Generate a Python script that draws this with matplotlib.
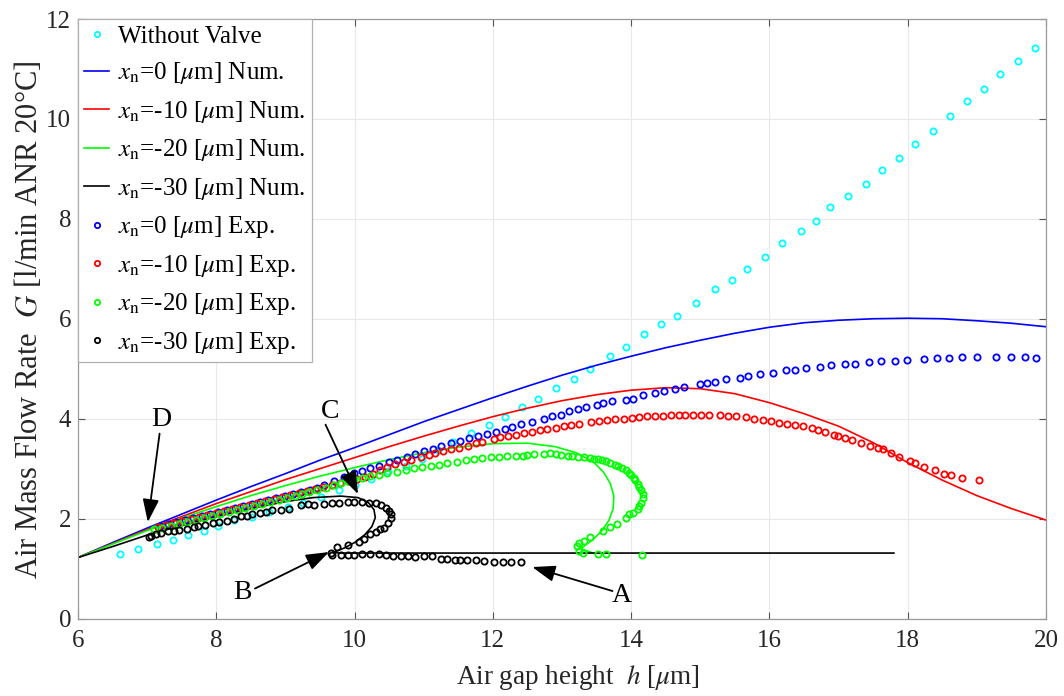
import matplotlib
matplotlib.use('Agg')
import matplotlib.pyplot as plt

plt.rcParams['font.family'] = ['Liberation Serif', 'DejaVu Serif']
plt.rcParams['mathtext.fontset'] = 'stix'

# ---------------- data ----------------
wv_h = [6.61, 6.87, 7.14, 7.37, 7.59, 7.82, 8.02, 8.25, 8.51, 8.76, 9.03, 9.25, 9.51, 9.77, 10.01,
        10.24, 10.48, 10.74, 10.98, 11.2, 11.43, 11.69, 11.94, 12.17, 12.42, 12.66, 12.91, 13.17,
        13.41, 13.69, 13.92, 14.19, 14.43, 14.66, 14.94, 15.21, 15.46, 15.68, 15.94, 16.18, 16.45,
        16.67, 16.87, 17.13, 17.40, 17.63, 17.87, 18.11, 18.36, 18.61, 18.86, 19.10, 19.34, 19.59, 19.84]
wv_G = [1.30, 1.40, 1.49, 1.57, 1.67, 1.75, 1.85, 1.97, 2.03, 2.13, 2.23, 2.31, 2.43, 2.57, 2.68,
        2.80, 2.95, 3.06, 3.20, 3.37, 3.54, 3.72, 3.87, 4.04, 4.24, 4.40, 4.61, 4.79,
        5.00, 5.25, 5.43, 5.69, 5.90, 6.06, 6.31, 6.59, 6.78, 7.00, 7.24, 7.51, 7.75,
        7.96, 8.24, 8.46, 8.70, 8.98, 9.22, 9.50, 9.75, 10.06, 10.35, 10.59, 10.89, 11.16, 11.41]

num0_h = [6, 6.5, 7, 7.5, 8, 8.5, 9, 9.5, 10, 10.5, 11, 11.5, 12, 12.5, 13, 13.5, 14, 14.5, 15,
          15.5, 16, 16.5, 17, 17.5, 18, 18.5, 19, 19.5, 20]
num0_G = [1.22, 1.52, 1.81, 2.09, 2.37, 2.64, 2.90, 3.17, 3.42, 3.68, 3.94, 4.18, 4.42, 4.65, 4.87,
          5.07, 5.25, 5.42, 5.57, 5.71, 5.83, 5.92, 5.97, 6.00, 6.01, 6.00, 5.96, 5.91, 5.84]

num10_h = [6, 6.5, 7, 7.5, 8, 8.5, 9, 9.5, 10, 10.5, 11, 11.5, 12, 12.5, 13, 13.5, 14, 14.5, 15,
           15.5, 16, 16.5, 17, 17.5, 18, 18.5, 19, 19.5, 20]
num10_G = [1.22, 1.50, 1.78, 2.04, 2.30, 2.54, 2.78, 3.00, 3.22, 3.44, 3.65, 3.85, 4.04, 4.21, 4.36,
           4.48, 4.57, 4.62, 4.60, 4.50, 4.32, 4.10, 3.85, 3.52, 3.12, 2.77, 2.46, 2.20, 1.97]

num20_h = [6, 6.5, 7, 7.5, 8, 8.5, 9, 9.5, 10, 10.5, 11, 11.5, 12, 12.5, 12.9, 13.2, 13.45, 13.6,
           13.7, 13.75, 13.74, 13.68, 13.58, 13.45, 13.32, 13.27, 13.45]
num20_G = [1.22, 1.49, 1.76, 2.01, 2.24, 2.46, 2.66, 2.85, 3.02, 3.18, 3.32, 3.43, 3.50, 3.51, 3.44,
           3.32, 3.14, 2.93, 2.70, 2.45, 2.20, 1.97, 1.76, 1.58, 1.45, 1.40, 1.31]

num30_h = [6, 6.5, 7, 7.5, 8, 8.5, 9, 9.4, 9.8, 10.05, 10.2, 10.28, 10.3, 10.25, 10.15, 10.0, 9.85,
           9.72, 9.68, 9.8, 17.8]
num30_G = [1.22, 1.44, 1.67, 1.86, 2.04, 2.20, 2.34, 2.42, 2.45, 2.42, 2.32, 2.18, 2.02, 1.84, 1.68,
           1.52, 1.41, 1.34, 1.32, 1.31, 1.31]

exp0_h = [7.18, 7.30, 7.42, 7.55, 7.67, 7.79, 7.91, 8.03, 8.15, 8.27, 8.39, 8.51, 8.63, 8.75, 8.87,
          8.99, 9.11, 9.23, 9.35, 9.45, 9.56, 9.70, 9.85, 9.99, 10.11, 10.23, 10.35, 10.50, 10.62,
          10.76, 10.88, 11.00, 11.13, 11.25, 11.39, 11.52, 11.65, 11.78, 11.92, 12.05, 12.17, 12.28,
          12.40, 12.56, 12.74, 12.86, 12.98, 13.10, 13.23, 13.35, 13.50, 13.60, 13.73, 13.92, 14.03,
          14.17, 14.34, 14.48, 14.63, 14.76, 14.99, 15.10, 15.22, 15.37, 15.57, 15.69, 15.87, 16.05,
          16.24, 16.37, 16.53, 16.73, 16.89, 17.09, 17.24, 17.44, 17.61, 17.82, 17.99, 18.24, 18.42,
          18.60, 18.79, 19.00, 19.28, 19.50, 19.70, 19.86]
exp0_G = [1.86, 1.89, 1.93, 1.97, 2.01, 2.05, 2.09, 2.13, 2.17, 2.21, 2.25, 2.29, 2.33, 2.37, 2.41,
          2.45, 2.49, 2.53, 2.57, 2.62, 2.67, 2.76, 2.84, 2.91, 2.96, 3.01, 3.06, 3.13, 3.18,
          3.24, 3.30, 3.35, 3.40, 3.45, 3.51, 3.56, 3.61, 3.65, 3.70, 3.73, 3.79, 3.84,
          3.89, 3.93, 4.00, 4.05, 4.08, 4.15, 4.19, 4.23, 4.28, 4.31, 4.35, 4.38, 4.40,
          4.47, 4.51, 4.55, 4.59, 4.64, 4.69, 4.71, 4.74, 4.79, 4.82, 4.85, 4.89, 4.92,
          4.97, 4.98, 5.01, 5.04, 5.07, 5.09, 5.10, 5.13, 5.16, 5.16, 5.17, 5.19, 5.21,
          5.21, 5.23, 5.24, 5.24, 5.23, 5.23, 5.22]

exp10_h = [7.15, 7.27, 7.39, 7.51, 7.63, 7.75, 7.87, 7.99, 8.11, 8.23, 8.35, 8.47, 8.59, 8.71, 8.83,
           8.95, 9.07, 9.19, 9.31, 9.43, 9.55, 9.67, 9.79, 9.91, 10.03, 10.15, 10.27, 10.37, 10.47,
           10.59, 10.71, 10.81, 10.96, 11.07, 11.17, 11.28, 11.39, 11.51, 11.64, 11.75, 11.85, 12.02,
           12.11, 12.22, 12.34, 12.45, 12.57, 12.68, 12.79, 12.91, 13.03, 13.13, 13.24, 13.42, 13.53,
           13.65, 13.77, 13.89, 14.01, 14.12, 14.23, 14.35, 14.46, 14.58, 14.69, 14.78, 14.90, 15.01,
           15.13, 15.28, 15.40, 15.52, 15.66, 15.78, 15.90, 16.02, 16.14, 16.26, 16.37, 16.49, 16.61,
           16.70, 16.81, 16.93, 16.99, 17.10, 17.20, 17.33, 17.45, 17.57, 17.64, 17.76, 17.88, 18.04,
           18.11, 18.24, 18.39, 18.53, 18.62, 18.78, 19.03]
exp10_G = [1.84, 1.88, 1.92, 1.96, 2.00, 2.04, 2.08, 2.12, 2.16, 2.19, 2.23, 2.27, 2.31, 2.35, 2.39,
           2.43, 2.47, 2.51, 2.55, 2.59, 2.63, 2.67, 2.71, 2.75, 2.79, 2.84, 2.90, 2.97, 3.03,
           3.10, 3.14, 3.17, 3.23, 3.28, 3.32, 3.36, 3.40, 3.42, 3.46, 3.51, 3.54, 3.60,
           3.64, 3.65, 3.68, 3.71, 3.73, 3.77, 3.79, 3.81, 3.85, 3.88, 3.90, 3.93, 3.95,
           3.97, 3.99, 3.99, 4.01, 4.03, 4.05, 4.05, 4.06, 4.07, 4.07, 4.07, 4.07, 4.07,
           4.07, 4.07, 4.05, 4.05, 4.03, 4.00, 3.98, 3.95, 3.92, 3.89, 3.87, 3.85, 3.81,
           3.77, 3.73, 3.68, 3.66, 3.61, 3.57, 3.52, 3.46, 3.42, 3.40, 3.32, 3.24, 3.15,
           3.12, 3.04, 2.97, 2.89, 2.87, 2.81, 2.77]

exp20_h = [7.10, 7.22, 7.34, 7.46, 7.58, 7.70, 7.82, 7.94, 8.06, 8.18, 8.30, 8.42, 8.54, 8.66, 8.78,
           8.90, 9.02, 9.14, 9.24, 9.34, 9.46, 9.58, 9.70, 9.80, 9.90, 9.99, 10.11, 10.23, 10.35,
           10.47, 10.62, 10.74, 10.86, 10.98, 11.10, 11.22, 11.34, 11.48, 11.61, 11.73, 11.85, 11.97,
           12.09, 12.21, 12.33, 12.43, 12.50, 12.59, 12.74, 12.83, 12.91, 12.99, 13.08, 13.15, 13.23,
           13.32, 13.41, 13.47, 13.52, 13.58, 13.64, 13.70, 13.76, 13.81, 13.87, 13.92, 13.97, 14.00,
           14.04, 14.06, 14.10, 14.12, 14.14, 14.17, 14.17, 14.14, 14.12, 14.10, 14.02, 13.97, 13.92,
           13.80, 13.70, 13.60, 13.41, 13.32, 13.24, 13.22, 13.24, 13.30, 13.52, 13.64, 14.16]
exp20_G = [1.79, 1.82, 1.86, 1.90, 1.94, 1.98, 2.02, 2.06, 2.10, 2.14, 2.18, 2.21, 2.25, 2.29, 2.33,
           2.37, 2.41, 2.45, 2.49, 2.53, 2.58, 2.62, 2.67, 2.72, 2.76, 2.79, 2.82, 2.85, 2.88,
           2.91, 2.94, 2.98, 3.01, 3.03, 3.05, 3.08, 3.11, 3.14, 3.17, 3.19, 3.21, 3.23,
           3.24, 3.25, 3.25, 3.26, 3.27, 3.30, 3.30, 3.32, 3.30, 3.28, 3.25, 3.25, 3.24,
           3.24, 3.22, 3.20, 3.20, 3.17, 3.15, 3.12, 3.07, 3.05, 3.02, 2.97, 2.91, 2.87,
           2.82, 2.77, 2.69, 2.63, 2.57, 2.49, 2.42, 2.32, 2.26, 2.19, 2.12, 2.09, 2.02,
           1.89, 1.84, 1.76, 1.63, 1.56, 1.51, 1.46, 1.36, 1.31, 1.29, 1.29, 1.28]

exp30_h = [7.02, 7.05, 7.13, 7.20, 7.30, 7.39, 7.46, 7.57, 7.68, 7.73, 7.83, 7.95, 8.04, 8.16, 8.26,
           8.36, 8.45, 8.52, 8.63, 8.72, 8.81, 8.93, 9.05, 9.22, 9.32, 9.41, 9.56, 9.68, 9.78,
           9.90, 9.99, 10.11, 10.21, 10.31, 10.38, 10.45, 10.50, 10.53, 10.52, 10.48, 10.43, 10.37,
           10.31, 10.23, 10.14, 10.06, 9.90, 9.75, 9.66, 9.68, 9.80, 9.90, 9.99, 10.11, 10.23,
           10.35, 10.45, 10.55, 10.67, 10.77, 10.88, 11.00, 11.12, 11.25, 11.34, 11.45, 11.53, 11.63,
           11.75, 11.87, 12.01, 12.14, 12.26, 12.40]
exp30_G = [1.63, 1.66, 1.70, 1.72, 1.76, 1.76, 1.78, 1.80, 1.84, 1.86, 1.88, 1.92, 1.94, 1.96, 1.99,
           2.06, 2.06, 2.09, 2.11, 2.14, 2.17, 2.18, 2.19, 2.27, 2.29, 2.27, 2.29, 2.31, 2.32,
           2.33, 2.33, 2.33, 2.32, 2.31, 2.27, 2.22, 2.16, 2.09, 2.02, 1.92, 1.82, 1.79,
           1.73, 1.69, 1.59, 1.54, 1.47, 1.43, 1.31, 1.28, 1.27, 1.27, 1.28, 1.29, 1.29,
           1.29, 1.28, 1.25, 1.25, 1.26, 1.24, 1.25, 1.25, 1.19, 1.19, 1.18, 1.17, 1.18,
           1.17, 1.15, 1.13, 1.13, 1.13, 1.13]

x_ticks = [6, 8, 10, 12, 14, 16, 18, 20]
y_ticks = [0, 2, 4, 6, 8, 10, 12]

labels = ['Without Valve',
          r'$x_{\rm n}$=0 [$\mu$m] Num.', r'$x_{\rm n}$=-10 [$\mu$m] Num.',
          r'$x_{\rm n}$=-20 [$\mu$m] Num.', r'$x_{\rm n}$=-30 [$\mu$m] Num.',
          r'$x_{\rm n}$=0 [$\mu$m] Exp.', r'$x_{\rm n}$=-10 [$\mu$m] Exp.',
          r'$x_{\rm n}$=-20 [$\mu$m] Exp.', r'$x_{\rm n}$=-30 [$\mu$m] Exp.']

# annotations: (label, text xy, arrow tail, arrow head)
annots = [('A', (13.87, 0.46), (13.73, 0.55), (12.57, 1.03)),
          ('B', (8.38, 0.53), (8.56, 0.60), (9.63, 1.33)),
          ('C', (9.64, 4.14), (9.58, 3.88), (10.05, 2.49)),
          ('D', (7.20, 3.98), (7.18, 3.70), (7.01, 1.93))]

# ---------------- plot ----------------
fig = plt.figure(figsize=(10.64, 6.96), dpi=100)
ax = fig.add_axes([78 / 1064, 1 - 618.5 / 696, (1046 - 78) / 1064, (618.5 - 19) / 696])

mk = dict(ls='none', marker='o', mfc='none', ms=4.5, mew=1.3)
lw = 1.2
ax.plot(wv_h, wv_G, color='#00ffff', label=labels[0], **mk)
ax.plot(num0_h, num0_G, color='#0000ff', lw=lw, label=labels[1])
ax.plot(num10_h, num10_G, color='#ff0000', lw=lw, label=labels[2])
ax.plot(num20_h, num20_G, color='#00ff00', lw=lw, label=labels[3])
ax.plot(num30_h, num30_G, color='#000000', lw=lw, label=labels[4])
ax.plot(exp0_h, exp0_G, color='#0000ff', label=labels[5], **mk)
ax.plot(exp10_h, exp10_G, color='#ff0000', label=labels[6], **mk)
ax.plot(exp20_h, exp20_G, color='#00ff00', label=labels[7], **mk)
ax.plot(exp30_h, exp30_G, color='#000000', label=labels[8], **mk)

for lab, txy, tail, head in annots:
    ax.text(txy[0], txy[1], lab, fontsize=20, ha='center', va='center')
    ax.annotate('', xy=head, xytext=tail,
                arrowprops=dict(arrowstyle='-|>,head_length=0.7,head_width=0.25',
                                color='black', lw=1.3, shrinkA=0, shrinkB=0,
                                mutation_scale=20))

ax.set_xlim(6, 20)
ax.set_ylim(0, 12)
ax.set_xticks(x_ticks)
ax.set_yticks(y_ticks)
ax.grid(True, color='#e8e8e8', lw=0.8)
ax.set_axisbelow(True)
ax.tick_params(direction='in', length=5, width=0.8, top=True, right=True,
               color='#555555', labelsize=18, labelcolor='#262626')
ax.tick_params(axis='x', pad=8)
ax.tick_params(axis='y', pad=5)
for s in ax.spines.values():
    s.set_color('#9a9a9a')
    s.set_linewidth(0.9)

ax.set_xlabel(r'Air gap height  $h$ [$\mu$m]', fontsize=19.5, color='#262626')
ax.xaxis.set_label_coords((578 - 78) / 968, -(677 - 618.5) / 599.5, transform=ax.transAxes)
ax.xaxis.label.set_va('center')
ax.set_ylabel(r'Air Mass Flow Rate  $G$ [l/min ANR 20°C]', fontsize=22, color='#262626')
ax.yaxis.set_label_coords(-(78 - 29) / 968, (618.5 - 320) / 599.5, transform=ax.transAxes)
ax.yaxis.label.set_va('center')

leg = ax.legend(loc='upper left', bbox_to_anchor=(0, 1), borderaxespad=0, fontsize=18,
                frameon=True, fancybox=False, framealpha=1, edgecolor='#b0b0b0',
                handlelength=1.0, handletextpad=0.35, labelspacing=0.5, borderpad=0.25,
                numpoints=1, markerscale=0.85)
leg.get_frame().set_linewidth(0.9)

fig.savefig('out.png', dpi=100)
